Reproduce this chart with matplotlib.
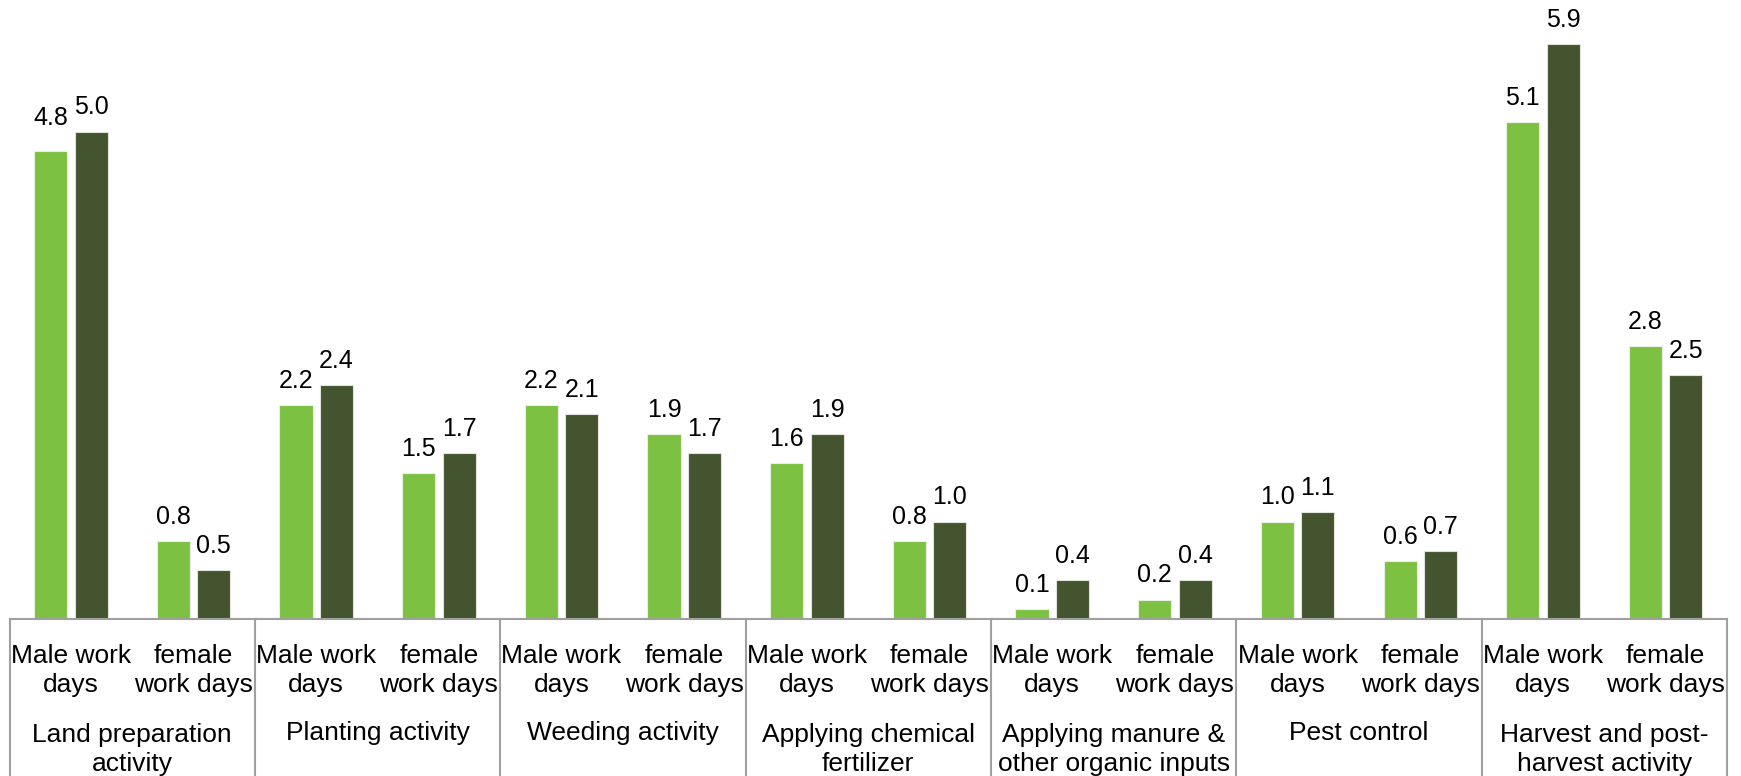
import numpy as np
import matplotlib.pyplot as plt
from matplotlib.transforms import blended_transform_factory

plt.rcParams['font.family'] = ['Liberation Sans', 'DejaVu Sans']

activities = ['Land preparation\nactivity', 'Planting activity', 'Weeding activity',
              'Applying chemical\nfertilizer', 'Applying manure &\nother organic inputs',
              'Pest control', 'Harvest and post-\nharvest activity']
sub_labels = ['Male work\ndays', 'female\nwork days']

# two series per sub-category, in order: male, female for each activity
series_a = [4.8, 0.8, 2.2, 1.5, 2.2, 1.9, 1.6, 0.8, 0.1, 0.2, 1.0, 0.6, 5.1, 2.8]
series_b = [5.0, 0.5, 2.4, 1.7, 2.1, 1.7, 1.9, 1.0, 0.4, 0.4, 1.1, 0.7, 5.9, 2.5]

light = '#7DC142'
dark = '#43542E'
line_gray = '#A0A0A0'

W, H = 1741, 776
fig = plt.figure(figsize=(W / 100, H / 100), dpi=100)
base_px = 619
ax = fig.add_axes([9.5 / W, (H - base_px) / H, (1727 - 9.5) / W, base_px / H])

n = len(series_a)
x = np.arange(n)
bw = 0.27
off = 0.165
bars_a = ax.bar(x - off, series_a, bw, color=light, edgecolor='#E8F0E0', linewidth=0.8)
bars_b = ax.bar(x + off, series_b, bw, color=dark, edgecolor='#E0E4DC', linewidth=0.8)

ax.set_xlim(-0.5, n - 0.5)
ax.set_ylim(0, base_px / 97.5)

# value labels above bars; the 4.8 label is pushed up a little to clear its neighbour
nudge_a = {0: 9}
for i, (ba, bb) in enumerate(zip(bars_a, bars_b)):
    for b, v, extra in ((ba, series_a[i], nudge_a.get(i, 0)), (bb, series_b[i], 0)):
        ax.annotate(f'{v:.1f}', (b.get_x() + b.get_width() / 2, v),
                    xytext=(0, (17 + extra) * 0.72), textcoords='offset points',
                    ha='center', va='baseline', fontsize=18, color='black')

for s in ax.spines.values():
    s.set_visible(False)
ax.set_xticks([])
ax.set_yticks([])

# baseline and the group dividers running down through the label area
ax.axhline(0, color=line_gray, linewidth=1.5, clip_on=False)
trans = blended_transform_factory(ax.transData, ax.transAxes)
below = -(H - base_px) / base_px
for g in range(len(activities) + 1):
    xb = -0.5 + 2 * g
    ax.plot([xb, xb], [0, below], color=line_gray, linewidth=1.5,
            transform=trans, clip_on=False)

# multi-line labels: baseline alignment pins the last line, so step down per extra line
px = 1 / base_px
step = 31
for i in range(n):
    lab = sub_labels[i % 2]
    y = 42 + step * lab.count('\n')
    ax.text(x[i], -y * px, lab, transform=trans, ha='center',
            va='baseline', fontsize=19, linespacing=1.26)
for g, name in enumerate(activities):
    y = 121 + step * name.count('\n')
    ax.text(2 * g + 0.5, -y * px, name, transform=trans, ha='center',
            va='baseline', fontsize=19, linespacing=1.26)

fig.savefig('out.png', dpi=100)
